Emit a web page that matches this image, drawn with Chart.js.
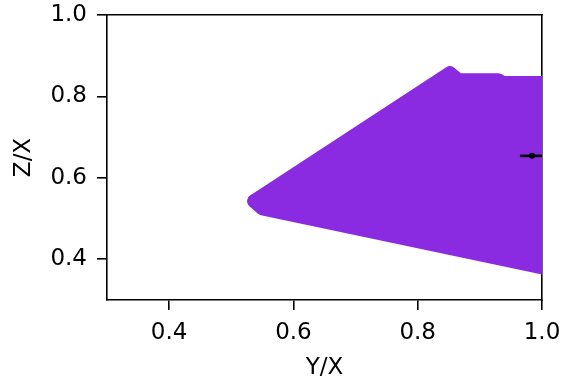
<!DOCTYPE html>
<html>
<head>
<meta charset="utf-8">
<script src="https://cdn.jsdelivr.net/npm/chart.js@4/dist/chart.umd.min.js"></script>
<style>
  html, body { margin: 0; padding: 0; background: #fff; }
  canvas { display: block; }
</style>
</head>
<body>
<canvas id="chart" width="565" height="385"></canvas>
<script>
// region outline, upper edge (Y/X, Z/X)
const topX = [0.537, 0.852, 0.865, 0.929, 0.937, 1.02];
const topY = [0.543, 0.857, 0.840, 0.840, 0.833, 0.833];
// region outline, lower edge
const botX = [0.537, 0.550, 1.02];
const botY = [0.543, 0.525, 0.374];
// measured point with x error
const markX = [0.984];
const markY = [0.654];
const markXErr = [0.0195];

const xTicks = [0.4, 0.6, 0.8, 1.0];
const yTicks = [0.4, 0.6, 0.8, 1.0];

const purple = '#8a2be2';
const font = { family: 'DejaVu Sans', size: 23 };

const pts = (xs, ys) => xs.map((x, i) => ({ x: x, y: ys[i] }));

const regionStyle = {
    type: 'line',
    borderColor: purple,
    backgroundColor: purple,
    borderWidth: 14,
    borderJoinStyle: 'round',
    borderCapStyle: 'round',
    pointRadius: 0,
    tension: 0,
    clip: 0
};

const errData = [];
markX.forEach((x, i) => {
    errData.push({ x: x - markXErr[i], y: markY[i] });
    errData.push({ x: x + markXErr[i], y: markY[i] });
});

// fixed box sizes, no label overflow padding
const fixSize = (prop, size) => s => {
    s[prop] = size;
    s.paddingLeft = 0; s.paddingRight = 0; s.paddingTop = 0; s.paddingBottom = 0;
};

const tickAxis = (ticks, size, prop) => ({
    type: 'linear',
    min: 0.3,
    max: 1.0,
    afterBuildTicks: s => { s.ticks = ticks.map(v => ({ value: v })); },
    afterFit: fixSize(prop, size),
    grid: { drawOnChartArea: false, drawTicks: true, tickLength: 10, color: '#000', lineWidth: 1.6 },
    border: { display: true, color: '#000', width: 1.6 },
    ticks: { color: '#000', font: font, maxRotation: 0, callback: v => v.toFixed(1) }
});

const plainAxis = (pos, size, prop) => ({
    type: 'linear',
    position: pos,
    min: 0.3,
    max: 1.0,
    afterFit: fixSize(prop, size),
    grid: { drawOnChartArea: false, drawTicks: false },
    border: { display: true, color: '#000', width: 1.6 },
    ticks: { display: false }
});

const xAxis = tickAxis(xTicks, 85, 'height');
xAxis.position = 'bottom';
xAxis.ticks.padding = 9;
xAxis.title = { display: true, text: 'Y/X', color: '#000', font: font, padding: { top: 0, bottom: 3 } };

const yAxis = tickAxis(yTicks, 107, 'width');
yAxis.position = 'left';
yAxis.ticks.padding = 10;
yAxis.title = { display: true, text: 'Z/X', color: '#000', font: font, padding: { top: 10, bottom: 0 } };

new Chart(document.getElementById('chart'), {
    data: {
        datasets: [
            { type: 'scatter', data: pts(markX, markY), backgroundColor: '#000', borderColor: '#000',
              pointRadius: 3, pointBorderWidth: 0, order: 0 },
            { type: 'line', data: errData, borderColor: '#000', borderWidth: 2.6, pointRadius: 0,
              clip: 0, order: 1 },
            Object.assign({ data: pts(topX, topY), fill: '+1', order: 2 }, regionStyle),
            Object.assign({ data: pts(botX, botY), fill: false, order: 3 }, regionStyle)
        ]
    },
    options: {
        responsive: false,
        animation: false,
        layout: { padding: 0 },
        plugins: { legend: { display: false }, tooltip: { enabled: false } },
        scales: {
            x: xAxis,
            y: yAxis,
            x2: plainAxis('top', 15, 'height'),
            y2: plainAxis('right', 23, 'width')
        }
    }
});
</script>
</body>
</html>
